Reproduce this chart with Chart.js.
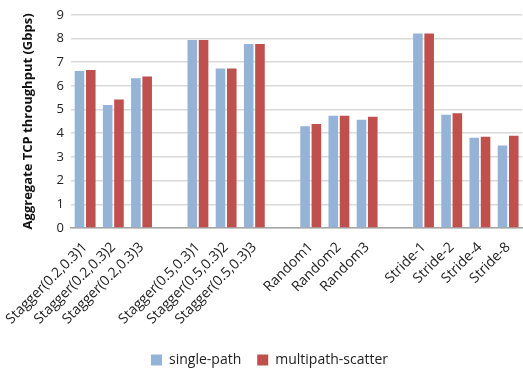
<!DOCTYPE html>
<html>
<head>
<meta charset="utf-8">
<script src="https://cdn.jsdelivr.net/npm/chart.js@4"></script>
<style>
  html, body { margin: 0; padding: 0; background: #fff; }
  .wrap { width: 523px; height: 369px; }
</style>
</head>
<body>
<div class="wrap"><canvas id="chart"></canvas></div>
<script>
// categories (empty strings are the gaps between groups)
const categories = [
  'Stagger(0.2,0.3)1', 'Stagger(0.2,0.3)2', 'Stagger(0.2,0.3)3', '',
  'Stagger(0.5,0.3)1', 'Stagger(0.5,0.3)2', 'Stagger(0.5,0.3)3', '',
  'Random1', 'Random2', 'Random3', '',
  'Stride-1', 'Stride-2', 'Stride-4', 'Stride-8'
];
const singlePath = [6.63, 5.19, 6.32, null, 7.94, 6.73, 7.77, null, 4.29, 4.74, 4.57, null, 8.21, 4.78, 3.81, 3.48];
const multipathScatter = [6.67, 5.42, 6.40, null, 7.94, 6.73, 7.77, null, 4.39, 4.74, 4.70, null, 8.21, 4.84, 3.85, 3.89];
const yTicks = [0, 1, 2, 3, 4, 5, 6, 7, 8, 9];

const font = 'Open Sans';

new Chart(document.getElementById('chart'), {
  type: 'bar',
  data: {
    labels: categories,
    datasets: [
      {
        label: 'single-path',
        data: singlePath,
        backgroundColor: '#95b3d7',
        categoryPercentage: 0.8,
        barPercentage: 0.85
      },
      {
        label: 'multipath-scatter',
        data: multipathScatter,
        backgroundColor: '#c0504d',
        categoryPercentage: 0.8,
        barPercentage: 0.85
      }
    ]
  },
  options: {
    responsive: true,
    maintainAspectRatio: false,
    animation: false,
    layout: { padding: { top: 2, right: 0, bottom: -8, left: 16 } },
    scales: {
      x: {
        grid: { display: false },
        border: { color: '#a6a6a6', width: 1.5 },
        afterFit: axis => { axis.height = 109; },
        ticks: {
          color: '#222',
          font: { family: font, size: 14 },
          minRotation: 45,
          maxRotation: 45,
          autoSkip: false,
          padding: 3
        }
      },
      y: {
        min: 0,
        max: 9,
        afterBuildTicks: axis => { axis.ticks = yTicks.map(v => ({ value: v })); },
        grid: { color: '#d9d9d9', lineWidth: 1.5, drawTicks: false },
        border: { display: false },
        ticks: {
          color: '#222',
          font: { family: font, size: 13 },
          padding: 7
        },
        title: {
          display: true,
          text: 'Aggregate TCP throughput (Gbps)',
          color: '#111',
          font: { family: font, size: 13, weight: 'bold' },
          padding: { bottom: 14 }
        }
      }
    },
    plugins: {
      legend: {
        position: 'bottom',
        labels: {
          color: '#222',
          font: { family: font, size: 14 },
          boxWidth: 11,
          boxHeight: 11,
          padding: 16
        }
      },
      tooltip: { enabled: false }
    }
  }
});
</script>
</body>
</html>
